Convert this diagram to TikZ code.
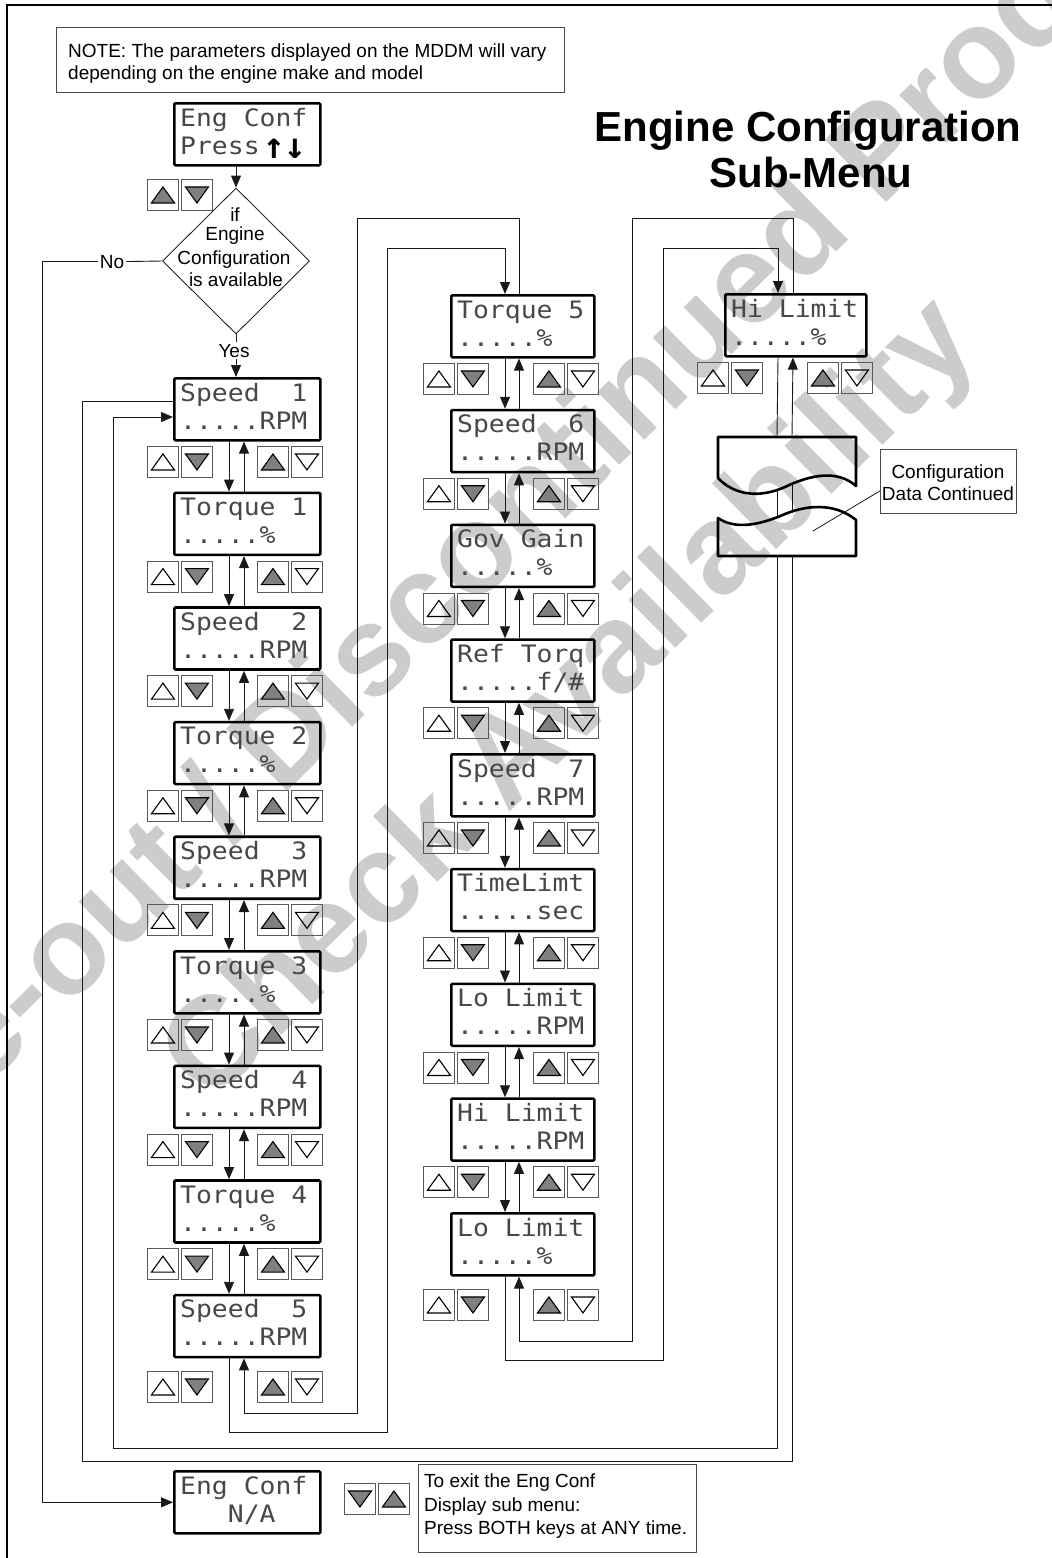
\documentclass[tikz,border=0pt]{standalone}
\usepackage{fontspec}
\setmainfont{Liberation Sans}
\newfontfamily\lcdfont{DejaVu Sans Mono}[FakeStretch=1.1]
\newfontfamily\arrfont{DejaVu Sans Mono}
\usetikzlibrary{arrows.meta,shapes.geometric,calc}
\definecolor{wmgray}{RGB}{204,204,204}
\definecolor{trigray}{RGB}{128,128,128}
\tikzset{
  lcd/.style={draw=black, line width=2.6pt, rounded corners=1.2pt, minimum height=62pt, inner sep=0pt, anchor=north west},
  lcdtxt/.style={font=\lcdfont\fontsize{24}{28}\selectfont, text=black!72, anchor=base west, inner sep=0pt},
  btn/.style={draw=black!65, line width=0.9pt, minimum size=31pt, inner sep=0pt, anchor=north west},
  tri/.style={draw=black, line width=1.1pt, line join=miter},
  conn/.style={draw=black!90, line width=0.9pt},
  arr/.style={conn, -{Triangle[length=12pt,width=10pt]}},
  lbl/.style={font=\fontsize{19}{22}\selectfont, inner sep=0pt},
  thinbox/.style={draw=black!70, line width=0.9pt, inner sep=0pt, anchor=north west},
  tornpiece/.style={draw=black, line width=2.6pt, line join=round},
  wm/.style={font=\fontsize{127}{127}\selectfont\bfseries, text=wmgray, inner sep=0pt, anchor=base west},
  arrglyph/.style={font=\arrfont\bfseries\fontsize{36}{36}\selectfont, anchor=base, inner sep=0pt},
}
\newcommand\lcdbox[6]{%
  \node[lcd, minimum width=#4pt] (#1) at (#2,#3) {};
  \node[lcdtxt] (#1a) at ($(#2,#3)+(7,24)$) {#5};
  \node[lcdtxt] (#1b) at ($(#2,#3)+(7,52)$) {#6};
}
\newcommand\upbtn[4]{%
  \node[btn] (#1) at (#2,#3) {};
  \draw[tri, fill=#4] ($(#1.center)+(-11.5,8)$) -- ($(#1.center)+(11.5,8)$) -- ($(#1.center)+(0,-8)$) -- cycle;
}
\newcommand\dnbtn[4]{%
  \node[btn] (#1) at (#2,#3) {};
  \draw[tri, fill=#4] ($(#1.center)+(-11.5,-8)$) -- ($(#1.center)+(11.5,-8)$) -- ($(#1.center)+(0,8)$) -- cycle;
}
\newcommand\btnrow[3]{%
  \upbtn{#1u1}{#2-27}{#3}{none}
  \dnbtn{#1d1}{#2+7}{#3}{trigray}
  \upbtn{#1u2}{#2+83}{#3}{trigray}
  \dnbtn{#1d2}{#2+117}{#3}{none}
}
\begin{document}
\begin{tikzpicture}[x=1pt,y=-1pt]
\useasboundingbox (0,0) rectangle (1052,1558);
\clip (0,0) rectangle (1052,1558);

% watermark (behind everything)
\node[wm, rotate=44.5] (wm1) at (-232,1302) {Phase-out / Discontinued Product};
\node[wm, rotate=44.5] (wm2) at (210,1106) {Check Availability};

% outer frame
\draw[line width=2.5pt] (7,5) rectangle (1100,1620);

% note
\node[thinbox, minimum width=508pt, minimum height=65pt] (notebox) at (56,27) {};
\node[lbl, anchor=base west] (note1) at (68,57) {NOTE: The parameters displayed on the MDDM will vary};
\node[lbl, anchor=base west] (note2) at (68,79) {depending on the engine make and model};

% title
\node[font=\fontsize{42}{46}\selectfont\bfseries, anchor=base, inner sep=0pt] (title1) at (808,141) {Engine Configuration};
\node[font=\fontsize{42}{46}\selectfont\bfseries, anchor=base, inner sep=0pt] (title2) at (811,187) {Sub-Menu};

% top entry
\lcdbox{EC}{173}{102}{146}{Eng Conf}{Press}
\node[arrglyph] (ECup) at (274,158) {↑};
\node[arrglyph] (ECdn) at (295,158) {↓};
\upbtn{tb1}{147}{179}{trigray}
\dnbtn{tb2}{181}{179}{trigray}

\node[draw=black!85, line width=0.9pt, diamond, aspect=1, minimum width=147pt, minimum height=146pt, inner sep=0pt] (dia) at (236,261) {};
\node[lbl, anchor=base] (d1) at (235,221) {if};
\node[lbl, anchor=base] (d2) at (235,240) {Engine};
\node[lbl, anchor=base] (d3) at (234,264) {Configuration};
\node[lbl, anchor=base] (d4) at (236,286) {is available};
\node[lbl, anchor=base, inner sep=2pt] (no) at (112,268) {No};
\node[lbl, anchor=base, inner sep=2pt] (yes) at (234,357) {Yes};
\coordinate (noX) at (42,0);

% left column
\lcdbox{S1}{173}{377}{146}{Speed\ \ 1}{.....RPM}
\lcdbox{T1}{173}{491.6}{146}{Torque 1}{.....\%}
\lcdbox{S2}{173}{606.2}{146}{Speed\ \ 2}{.....RPM}
\lcdbox{T2}{173}{720.8}{146}{Torque 2}{.....\%}
\lcdbox{S3}{173}{835.4}{146}{Speed\ \ 3}{.....RPM}
\lcdbox{T3}{173}{950}{146}{Torque 3}{.....\%}
\lcdbox{S4}{173}{1064.6}{146}{Speed\ \ 4}{.....RPM}
\lcdbox{T4}{173}{1179.2}{146}{Torque 4}{.....\%}
\lcdbox{S5}{173}{1293.8}{146}{Speed\ \ 5}{.....RPM}
\btnrow{L1}{174}{446}
\btnrow{L2}{174}{560.6}
\btnrow{L3}{174}{675.2}
\btnrow{L4}{174}{789.8}
\btnrow{L5}{174}{904.4}
\btnrow{L6}{174}{1019}
\btnrow{L7}{174}{1133.6}
\btnrow{L8}{174}{1248.2}
\btnrow{L9}{174}{1371}
\foreach \a/\b in {S1/T1,T1/S2,S2/T2,T2/S3,S3/T3,T3/S4,S4/T4,T4/S5}{
  \draw[arr] ($(\a.south west)+(56,0)$) -- ($(\b.north west)+(56,0)$);
  \draw[arr] ($(\b.north west)+(71,0)$) -- ($(\a.south west)+(71,0)$);
}

\draw[arr] (EC.south -| dia.north) -- (dia.north);
\draw[conn] (dia.south) -- (dia.south |- yes.north);
\draw[arr] (dia.south |- yes.south) -- (dia.south |- S1.north);

% middle column
\lcdbox{M1}{450}{294}{143}{Torque 5}{.....\%}
\lcdbox{M2}{450}{408.75}{143}{Speed\ \ 6}{.....RPM}
\lcdbox{M3}{450}{523.5}{143}{Gov Gain}{.....\%}
\lcdbox{M4}{450}{638.25}{143}{Ref Torq}{.....f/\#}
\lcdbox{M5}{450}{753}{143}{Speed\ \ 7}{.....RPM}
\lcdbox{M6}{450}{867.75}{143}{TimeLimt}{.....sec}
\lcdbox{M7}{450}{982.5}{143}{Lo Limit}{.....RPM}
\lcdbox{M8}{450}{1097.25}{143}{Hi Limit}{.....RPM}
\lcdbox{M9}{450}{1212}{143}{Lo Limit}{.....\%}
\btnrow{N1}{450}{363}
\btnrow{N2}{450}{477.75}
\btnrow{N3}{450}{592.5}
\btnrow{N4}{450}{707.25}
\btnrow{N5}{450}{822}
\btnrow{N6}{450}{936.75}
\btnrow{N7}{450}{1051.5}
\btnrow{N8}{450}{1166.25}
\btnrow{N9}{450}{1289}
\foreach \a/\b in {M1/M2,M2/M3,M3/M4,M4/M5,M5/M6,M6/M7,M7/M8,M8/M9}{
  \draw[arr] ($(\a.south west)+(55,0)$) -- ($(\b.north west)+(55,0)$);
  \draw[arr] ($(\b.north west)+(69,0)$) -- ($(\a.south west)+(69,0)$);
}

% right column
\lcdbox{R1}{724}{293}{141}{Hi Limit}{.....\%}
\btnrow{Q1}{724}{362}

% loops between columns
\draw[arr] ($(S5.south west)+(56,0)$) -- ++(0,74) -| (387,248) -| ($(M1.north west)+(55,0)$);
\draw[arr] ($(M1.north west)+(69,0)$) -- ++(0,-76) -| (357,1413) -| ($(S5.south west)+(71,0)$);
\draw[arr] ($(M9.south west)+(55,0)$) -- ++(0,84) -| (663,248) -| ($(R1.north west)+(54,0)$);
\draw[arr] ($(R1.north west)+(69,0)$) -- ++(0,-75) -| (632,1341) -| ($(M9.south west)+(69,0)$);

% torn continuation pieces
\draw[tornpiece] (718,437) -- (856,437) -- (856,486)
  .. controls (838,470) and (812,474) .. (785,487)
  .. controls (760,498) and (735,496) .. (718,478) -- cycle;
\draw[tornpiece] (718,518)
  .. controls (735,530) and (760,525) .. (785,514)
  .. controls (812,503) and (838,505) .. (856,520)
  -- (856,556) -- (718,556) -- cycle;
\coordinate (dnTop) at (777,437);
\coordinate (dnGapA) at (777,490);
\coordinate (dnGapB) at (777,517);
\coordinate (dnBot) at (777,556);
\coordinate (upTop) at (792,437);
\coordinate (upGapA) at (792,484);
\coordinate (upGapB) at (792,511);
\coordinate (upBot) at (792,556);

% wrap around (last item <-> Speed 1)
\draw[conn] ($(R1.south west)+(54,0)$) -- (dnTop);
\draw[conn] (dnGapA) -- (dnGapB);
\draw[arr] (dnBot) -- (777,1448) -- (113,1448) |- ($(S1.north west)+(0,40)$);
\draw[conn] ($(S1.north west)+(0,24)$) -| (82,1461) -| (upBot);
\draw[conn] (upGapB) -- (upGapA);
\draw[arr] (upTop) -- ($(R1.south west)+(69,0)$);

\node[thinbox, minimum width=136pt, minimum height=64pt] (cfg) at (880,449) {};
\node[lbl, anchor=base] (cfg1) at (948,478) {Configuration};
\node[lbl, anchor=base] (cfg2) at (948,500) {Data Continued};
\coordinate (tearpt) at (813,531);
\draw[line width=0.7pt] (tearpt) -- ($(cfg.south west)+(0,-23)$);

% bottom
\lcdbox{NA}{173}{1470}{146}{Eng Conf}{\ \ \ N/A}
\dnbtn{bb1}{344}{1483}{trigray}
\upbtn{bb2}{378}{1483}{trigray}
\node[thinbox, minimum width=278pt, minimum height=88pt] (exitbox) at (418,1464) {};
\node[lbl, anchor=base west] (ex1) at (424,1487) {To exit the Eng Conf};
\node[lbl, anchor=base west] (ex2) at (424,1511) {Display sub menu:};
\node[lbl, anchor=base west] (ex3) at (424,1534) {Press BOTH keys at ANY time.};

% No branch
\draw[conn] (dia.west) -- (no.east);
\draw[arr] (no.west) -- (no.west -| noX) |- (NA.west);
\end{tikzpicture}
\end{document}
